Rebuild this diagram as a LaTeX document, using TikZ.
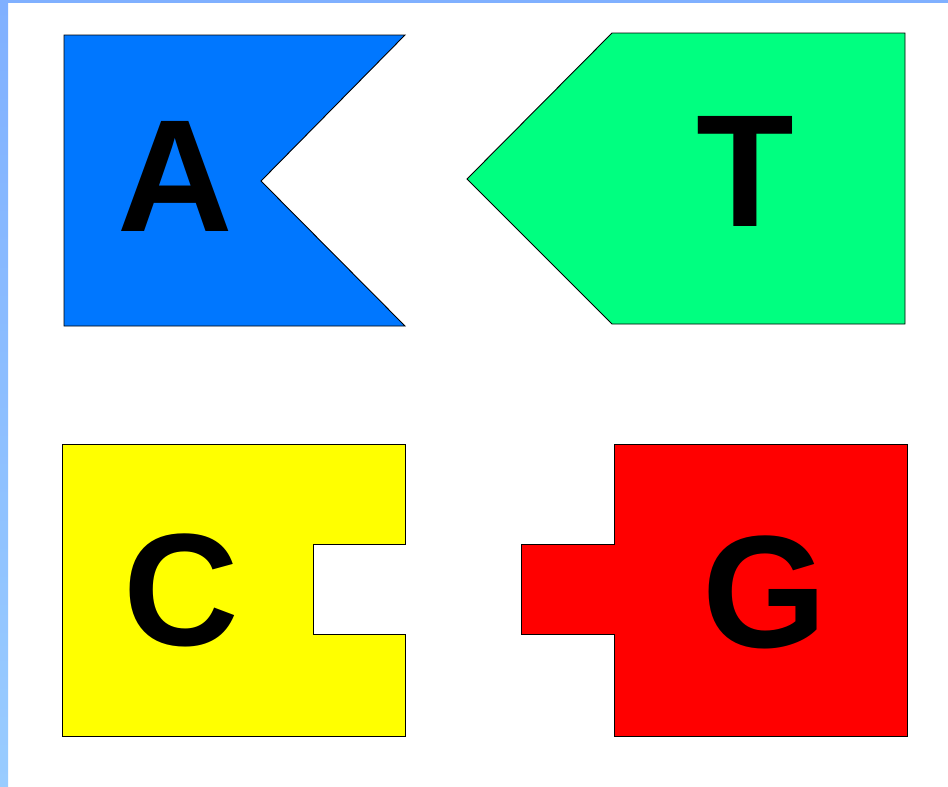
\documentclass[tikz,border=0pt]{standalone}
\usepackage{fontspec}
\setmainfont{Liberation Sans}
\definecolor{frametop}{RGB}{128,176,255}
\definecolor{framebot}{RGB}{153,204,255}
\definecolor{pieceA}{RGB}{0,119,255}
\definecolor{pieceT}{RGB}{0,255,128}
\definecolor{pieceC}{RGB}{255,255,0}
\definecolor{pieceG}{RGB}{255,0,0}
\begin{document}
\begin{tikzpicture}[x=1pt,y=-1pt,
  piece/.style={draw=black,line width=0.9pt,line join=miter},
  letter/.style={font=\fontsize{160}{160}\selectfont\bfseries,inner sep=0pt,anchor=center}]
\useasboundingbox (0,0) rectangle (948,787);
\fill[white] (0,0) rectangle (948,787);
\shade[top color=frametop,bottom color=framebot] (0,0) rectangle (8,787);
\fill[frametop] (0,0) rectangle (948,3);
% A
\filldraw[piece,fill=pieceA] (64,35) -- (405,35) -- (261,181) -- (405,326) -- (64,326) -- cycle;
\node[letter] (a) at (175,176) {A};
% T
\filldraw[piece,fill=pieceT] (612,33) -- (905,33) -- (905,324) -- (612,324) -- (467,179) -- cycle;
\node[letter] (t) at (745,171) {T};
% C
\filldraw[piece,fill=pieceC] (62,444) -- (405,444) -- (405,544) -- (313,544) -- (313,634) -- (405,634) -- (405,736) -- (62,736) -- cycle;
\node[letter] (c) at (181,590) {C};
% G
\filldraw[piece,fill=pieceG] (614,444) -- (907,444) -- (907,736) -- (614,736) -- (614,634) -- (521,634) -- (521,544) -- (614,544) -- cycle;
\node[letter] (g) at (765,592) {G};
\end{tikzpicture}
\end{document}
